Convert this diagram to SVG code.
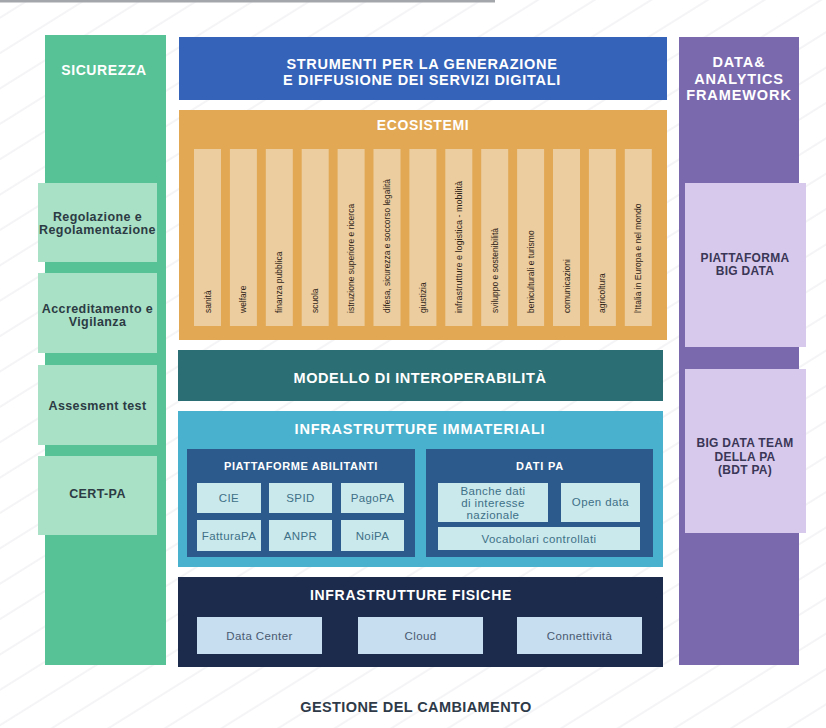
<svg xmlns="http://www.w3.org/2000/svg" width="826" height="728" viewBox="0 0 826 728">
<defs>
<pattern id="hatch" width="30" height="30" patternUnits="userSpaceOnUse" patternTransform="rotate(-32)">
<line x1="0" y1="15" x2="30" y2="15" stroke="#eaeaee" stroke-width="1"/>
</pattern>
<style>
text{font-family:"Liberation Sans",Arial,sans-serif;}
.h{font-weight:bold;fill:#ffffff;text-anchor:middle;}
.lb{font-weight:bold;fill:#2c3b44;font-size:12.5px;letter-spacing:0.4px;text-anchor:middle;}
.rb{font-weight:bold;fill:#3a3656;font-size:12px;letter-spacing:0.3px;text-anchor:middle;}
.col{fill:#eccd9f;}
.ct{font-size:8.5px;fill:#2e2418;}
.pi{fill:#c9e9ec;}
.pt{font-size:11.5px;fill:#3f7087;letter-spacing:0.4px;text-anchor:middle;}
.fi{fill:#c6def0;}
.ft{font-size:11.5px;fill:#4a5a70;letter-spacing:0.4px;text-anchor:middle;}
</style>
</defs>
<rect x="0" y="0" width="826" height="728" fill="#ffffff"/>
<rect x="0" y="0" width="826" height="728" fill="url(#hatch)"/>
<rect x="0" y="0" width="495" height="2.5" fill="#a3a7ab"/>

<g id="sicurezza">
<rect x="45" y="35" width="121" height="630" fill="#57c296"/>
<text class="h" x="104" y="75" font-size="14" letter-spacing="0.6">SICUREZZA</text>
</g>
<g id="regolazione">
<rect x="38" y="183" width="119" height="79" fill="#a9e1c6"/>
<text class="lb" x="97.5" y="221">Regolazione e</text>
<text class="lb" x="97.5" y="234">Regolamentazione</text>
</g>
<g id="accreditamento">
<rect x="38" y="273" width="119" height="80" fill="#a9e1c6"/>
<text class="lb" x="97.5" y="313">Accreditamento e</text>
<text class="lb" x="97.5" y="326">Vigilanza</text>
</g>
<g id="assesment">
<rect x="38" y="365" width="119" height="80" fill="#a9e1c6"/>
<text class="lb" x="97.5" y="410">Assesment test</text>
</g>
<g id="certpa">
<rect x="38" y="456" width="119" height="79" fill="#a9e1c6"/>
<text class="lb" x="97.5" y="498">CERT-PA</text>
</g>

<g id="strumenti">
<rect x="179" y="37" width="488" height="63" fill="#3563b9"/>
<text class="h" x="422" y="69" font-size="14.5" letter-spacing="0.7">STRUMENTI PER LA GENERAZIONE</text>
<text class="h" x="422" y="85" font-size="14.5" letter-spacing="0.7">E DIFFUSIONE DEI SERVIZI DIGITALI</text>
</g>

<g id="data-analytics">
<rect x="679" y="37" width="120" height="628" fill="#7b69ae"/>
<text class="h" x="739" y="67" font-size="14.5" letter-spacing="0.9">DATA&amp;</text>
<text class="h" x="739" y="84" font-size="14.5" letter-spacing="0.9">ANALYTICS</text>
<text class="h" x="739" y="100" font-size="14.5" letter-spacing="0.9">FRAMEWORK</text>
</g>
<g id="piattaforma-big-data">
<rect x="685" y="183" width="121" height="164" fill="#d6c9ec"/>
<text class="rb" x="745" y="262">PIATTAFORMA</text>
<text class="rb" x="745" y="275">BIG DATA</text>
</g>
<g id="big-data-team">
<rect x="685" y="369" width="121" height="164" fill="#d6c9ec"/>
<text class="rb" x="745" y="447">BIG DATA TEAM</text>
<text class="rb" x="745" y="461">DELLA PA</text>
<text class="rb" x="745" y="474">(BDT PA)</text>
</g>

<g id="ecosistemi">
<rect x="179" y="110" width="488" height="230" fill="#e2a853"/>
<text class="h" x="423" y="130" font-size="14" letter-spacing="0.6">ECOSISTEMI</text>
<rect class="col" x="194" y="149" width="27" height="177"/>
<rect class="col" x="229.9" y="149" width="27" height="177"/>
<rect class="col" x="265.8" y="149" width="27" height="177"/>
<rect class="col" x="301.7" y="149" width="27" height="177"/>
<rect class="col" x="337.6" y="149" width="27" height="177"/>
<rect class="col" x="373.5" y="149" width="27" height="177"/>
<rect class="col" x="409.4" y="149" width="27" height="177"/>
<rect class="col" x="445.3" y="149" width="27" height="177"/>
<rect class="col" x="481.2" y="149" width="27" height="177"/>
<rect class="col" x="517.1" y="149" width="27" height="177"/>
<rect class="col" x="553" y="149" width="27" height="177"/>
<rect class="col" x="588.9" y="149" width="27" height="177"/>
<rect class="col" x="624.8" y="149" width="27" height="177"/>
<text class="ct" transform="translate(207.5,313) rotate(-90)" y="3">sanità</text>
<text class="ct" transform="translate(243.4,313) rotate(-90)" y="3">welfare</text>
<text class="ct" transform="translate(279.3,313) rotate(-90)" y="3">finanza pubblica</text>
<text class="ct" transform="translate(315.2,313) rotate(-90)" y="3">scuola</text>
<text class="ct" transform="translate(351.1,313) rotate(-90)" y="3">istruzione superiore e ricerca</text>
<text class="ct" transform="translate(387,313) rotate(-90)" y="3" textLength="134" lengthAdjust="spacingAndGlyphs">difesa, sicurezza e soccorso legalità</text>
<text class="ct" transform="translate(422.9,313) rotate(-90)" y="3">giustizia</text>
<text class="ct" transform="translate(458.8,313) rotate(-90)" y="3" textLength="132" lengthAdjust="spacingAndGlyphs">infrastrutture e logistica - mobilità</text>
<text class="ct" transform="translate(494.7,313) rotate(-90)" y="3">sviluppo e sostenibilità</text>
<text class="ct" transform="translate(530.6,313) rotate(-90)" y="3">beniculturali e turismo</text>
<text class="ct" transform="translate(566.5,313) rotate(-90)" y="3">comunicazioni</text>
<text class="ct" transform="translate(602.4,313) rotate(-90)" y="3">agricoltura</text>
<text class="ct" transform="translate(638.3,313) rotate(-90)" y="3">l'Italia in Europa e nel mondo</text>
</g>

<g id="interoperabilita">
<rect x="178" y="350" width="485" height="51" fill="#2b6e73"/>
<text class="h" x="420" y="383" font-size="14.5" letter-spacing="0.6">MODELLO DI INTEROPERABILITÀ</text>
</g>

<g id="infrastrutture-immateriali">
<rect x="178" y="411" width="485" height="156" fill="#49b1cd"/>
<text class="h" x="420" y="434" font-size="14.5" letter-spacing="0.8">INFRASTRUTTURE IMMATERIALI</text>
</g>
<g id="piattaforme-abilitanti">
<rect x="187" y="449" width="228" height="108" fill="#2c5a8c"/>
<text class="h" x="301" y="470" font-size="11" letter-spacing="0.6">PIATTAFORME ABILITANTI</text>
<rect class="pi" x="197" y="483" width="64" height="30"/>
<text class="pt" x="229" y="502">CIE</text>
<rect class="pi" x="269" y="483" width="63" height="30"/>
<text class="pt" x="300.5" y="502">SPID</text>
<rect class="pi" x="341" y="483" width="63" height="30"/>
<text class="pt" x="372.5" y="502">PagoPA</text>
<rect class="pi" x="197" y="520" width="64" height="31"/>
<text class="pt" x="229" y="539.5">FatturaPA</text>
<rect class="pi" x="269" y="520" width="63" height="31"/>
<text class="pt" x="300.5" y="539.5">ANPR</text>
<rect class="pi" x="341" y="520" width="63" height="31"/>
<text class="pt" x="372.5" y="539.5">NoiPA</text>
</g>
<g id="dati-pa">
<rect x="426" y="449" width="227" height="108" fill="#2c5a8c"/>
<text class="h" x="540" y="470" font-size="11" letter-spacing="0.8">DATI PA</text>
<rect class="pi" x="438" y="483" width="110" height="39"/>
<text class="pt" x="493" y="495">Banche dati</text>
<text class="pt" x="493" y="507">di interesse</text>
<text class="pt" x="493" y="519">nazionale</text>
<rect class="pi" x="561" y="483" width="79" height="39"/>
<text class="pt" x="600.5" y="506">Open data</text>
<rect class="pi" x="438" y="527" width="202" height="23"/>
<text class="pt" x="539" y="542.5">Vocabolari controllati</text>
</g>

<g id="infrastrutture-fisiche">
<rect x="178" y="577" width="485" height="90" fill="#1c2b4b"/>
<text class="h" x="411" y="600" font-size="14" letter-spacing="0.7">INFRASTRUTTURE FISICHE</text>
<rect class="fi" x="197" y="617" width="125" height="37"/>
<text class="ft" x="259.5" y="639.5">Data Center</text>
<rect class="fi" x="358" y="617" width="125" height="37"/>
<text class="ft" x="420.5" y="639.5">Cloud</text>
<rect class="fi" x="517" y="617" width="125" height="37"/>
<text class="ft" x="579.5" y="639.5">Connettività</text>
</g>

<g id="gestione">
<text x="416" y="712" font-size="14.5" font-weight="bold" fill="#2e3a48" letter-spacing="0.4" text-anchor="middle">GESTIONE DEL CAMBIAMENTO</text>
</g>
<g id="connectors"></g>
</svg>
